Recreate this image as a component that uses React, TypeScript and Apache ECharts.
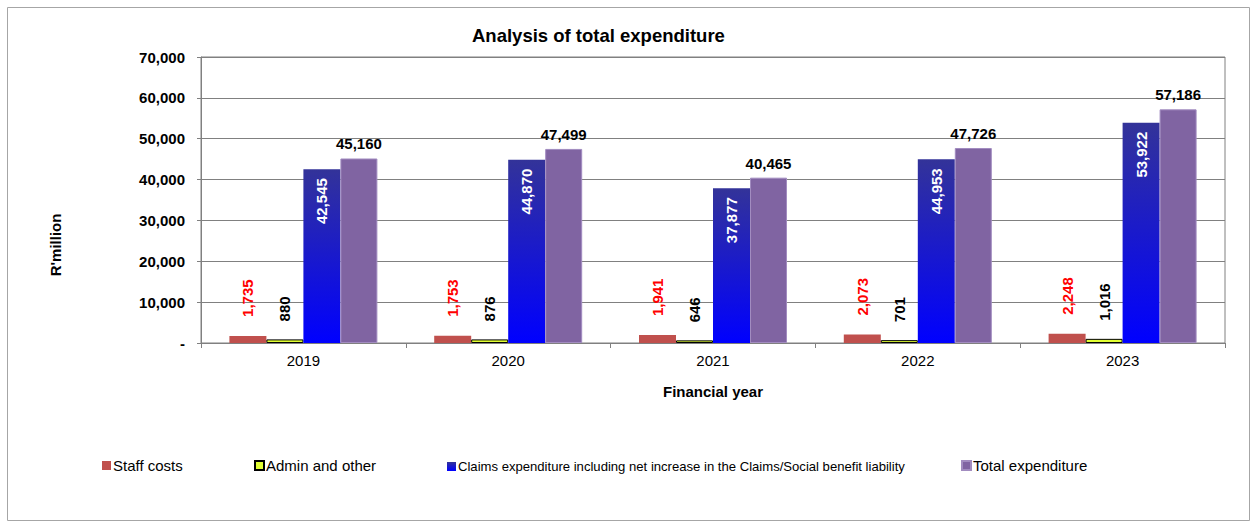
import React, { useEffect, useRef } from "react";
import * as echarts from "echarts";

const categories = ["2019", "2020", "2021", "2022", "2023"];
const staffCosts = [1735, 1753, 1941, 2073, 2248];
const adminOther = [880, 876, 646, 701, 1016];
const claimsExp = [42545, 44870, 37877, 44953, 53922];
const totalExp = [45160, 47499, 40465, 47726, 57186];
const seriesNames = [
  "Staff costs",
  "Admin and other",
  "Claims expenditure including net increase in the Claims/Social benefit liability",
  "Total expenditure",
];

const FONT = "Liberation Sans, Arial, Helvetica, sans-serif";
const fmt = (v: number) => v.toLocaleString("en-US");

export default function App() {
  const ref = useRef<HTMLDivElement>(null);
  useEffect(() => {
    if (!ref.current) return;
    const chart = echarts.init(ref.current, undefined, { renderer: "svg" });
    const labelBase = { fontFamily: FONT, fontSize: 15, fontWeight: "bold" as const };
    const option: any = {
      animation: false,
      backgroundColor: "#ffffff",
      textStyle: { fontFamily: FONT },
      title: {
        text: "Analysis of total expenditure",
        left: 467,
        top: 21,
        textStyle: { fontFamily: FONT, fontSize: 18.5, fontWeight: "bold", color: "#000" },
      },
      grid: {
        left: 201,
        right: 29,
        top: 57,
        bottom: 181,
        show: true,
        borderColor: "#808080",
        borderWidth: 1,
        backgroundColor: "transparent",
      },
      legend: seriesNames.map((n, i) => ({
        data: [n],
        left: [97, 249, 442, 956][i],
        top: i === 2 ? 455 : 453,
        itemWidth: 9,
        itemHeight: 9,
        itemGap: 0,
        icon: "rect",
        textStyle: {
          fontFamily: FONT,
          fontSize: i === 2 ? 13.1 : 15,
          color: "#000",
          padding: [0, 0, 0, -3],
        },
      })),
      xAxis: {
        type: "category",
        data: categories,
        name: "Financial year",
        nameLocation: "middle",
        nameGap: 41,
        nameTextStyle: { fontFamily: FONT, fontSize: 15, fontWeight: "bold", color: "#000" },
        axisLine: { lineStyle: { color: "#808080", width: 1 } },
        axisTick: { show: true, length: 5, lineStyle: { color: "#808080" } },
        axisLabel: { fontFamily: FONT, fontSize: 15, color: "#000", margin: 10 },
      },
      yAxis: {
        type: "value",
        min: 0,
        max: 70000,
        interval: 10000,
        axisLine: { show: true, lineStyle: { color: "#808080", width: 1 } },
        axisTick: { show: true, length: 4, inside: false, lineStyle: { color: "#808080" } },
        axisLabel: {
          fontFamily: FONT,
          fontSize: 15,
          fontWeight: "bold",
          color: "#000",
          margin: 16,
          formatter: (v: number) => (v === 0 ? "-" : fmt(v)),
        },
        splitLine: { show: true, lineStyle: { color: "#808080", width: 1 } },
      },
      graphic: [
        {
          type: "rect",
          shape: { x: 7.5, y: 7.5, width: 1242, height: 513 },
          style: { fill: "none", stroke: "#a6a6a6", lineWidth: 1 },
          silent: true,
        },
        {
          type: "text",
          x: 55,
          y: 245,
          rotation: Math.PI / 2,
          style: {
            text: "R'million",
            fontFamily: FONT,
            fontSize: 15,
            fontWeight: "bold",
            fill: "#000",
            align: "center",
            verticalAlign: "middle",
          },
        },
      ],
      series: [
        {
          name: seriesNames[0],
          type: "bar",
          data: staffCosts,
          barWidth: 37,
          barGap: "0%",
          itemStyle: { color: "#C0504D" },
          label: {
            show: true,
            ...labelBase,
            color: "#FF0000",
            position: "top",
            rotate: 90,
            align: "left",
            verticalAlign: "middle",
            distance: 19,
            formatter: (p: any) => fmt(p.value),
          },
        },
        {
          name: seriesNames[1],
          type: "bar",
          data: adminOther,
          barWidth: 37,
          barGap: "0%",
          itemStyle: { color: "#E2FF33", borderColor: "#000", borderWidth: 1 },
          label: {
            show: true,
            ...labelBase,
            color: "#000",
            position: "top",
            rotate: 90,
            align: "left",
            verticalAlign: "middle",
            distance: 18,
            formatter: (p: any) => fmt(p.value),
          },
        },
        {
          name: seriesNames[2],
          type: "bar",
          data: claimsExp,
          barWidth: 37,
          barGap: "0%",
          itemStyle: {
            color: new echarts.graphic.LinearGradient(0, 0, 0, 1, [
              { offset: 0, color: "#333399" },
              { offset: 1, color: "#0000FF" },
            ]),
          },
          label: {
            show: true,
            ...labelBase,
            color: "#FFFFFF",
            position: "insideTop",
            rotate: 90,
            align: "right",
            verticalAlign: "middle",
            distance: 9,
            formatter: (p: any) => fmt(p.value),
          },
        },
        {
          name: seriesNames[3],
          type: "bar",
          data: totalExp,
          barWidth: 37,
          barGap: "0%",
          itemStyle: { color: "#8064A2", borderColor: "#A28CC0", borderWidth: 1 },
          label: {
            show: true,
            ...labelBase,
            color: "#000",
            position: "top",
            distance: 7,
            formatter: (p: any) => fmt(p.value),
          },
        },
      ],
    };
    chart.setOption(option);
    return () => chart.dispose();
  }, []);
  return (
    <div
      ref={ref}
      style={{ position: "fixed", left: 0, top: 0, width: 1254, height: 524, background: "#fff" }}
    />
  );
}
